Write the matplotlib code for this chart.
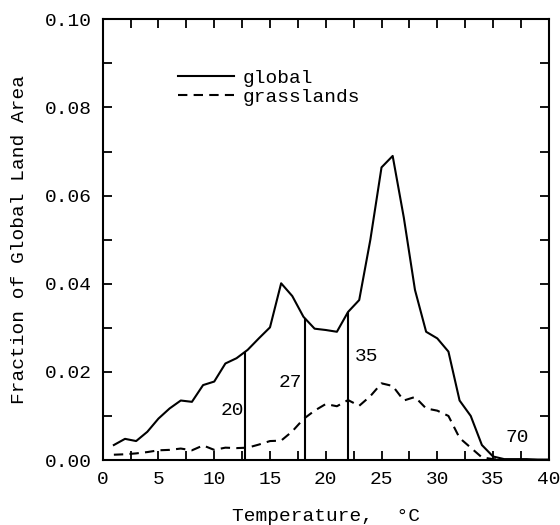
import numpy as np
from matplotlib import pyplot as plt
from matplotlib.ticker import MultipleLocator

plt.rcParams['font.family'] = ['Liberation Mono', 'DejaVu Sans']

# temperature bins (degrees C)
temp = [1, 2, 3, 4, 5, 6, 7, 8, 9, 10, 11, 12, 13, 14, 15, 16, 17, 18, 19, 20,
        21, 22, 23, 24, 25, 26, 27, 28, 29, 30, 31, 32, 33, 34, 35, 36, 37, 38, 39, 40]

global_frac = [0.0034, 0.0048, 0.0043, 0.0064, 0.0094, 0.0117, 0.0135, 0.0132, 0.0170, 0.0178,
               0.0219, 0.0231, 0.0250, 0.0276, 0.0301, 0.0401, 0.0372, 0.0325, 0.0298, 0.0295,
               0.0291, 0.0336, 0.0363, 0.0500, 0.0664, 0.0690, 0.0550, 0.0386, 0.0291, 0.0276,
               0.0246, 0.0135, 0.0100, 0.0034, 0.0008, 0.0002, 0.0002, 0.0002, 0.0001, 0.0001]

grass_frac = [0.0012, 0.0013, 0.0015, 0.0018, 0.0022, 0.0023, 0.0026, 0.0022, 0.0033, 0.0023,
              0.0028, 0.0027, 0.0028, 0.0035, 0.0043, 0.0044, 0.0065, 0.0093, 0.0112, 0.0127,
              0.0122, 0.0136, 0.0123, 0.0145, 0.0174, 0.0168, 0.0135, 0.0143, 0.0117, 0.0112,
              0.0100, 0.0050, 0.0028, 0.0006, 0.0002, 0.0, 0.0, 0.0, 0.0, 0.0]

# percentile cut lines and their labels
cut_temp = [12.8, 18.1, 22.0]
cut_labels = ['20', '27', '35', '70']
label_pos = [(11.6, 0.0113), (16.8, 0.0176), (23.7, 0.0234), (37.2, 0.0052)]

fig = plt.figure(figsize=(5.6, 5.25), dpi=100)
ax = fig.add_axes([0.1834, 0.1238, 0.7966, 0.8394])

ax.plot(temp, global_frac, color='black', linewidth=1.5, label='global')
ax.plot(temp, grass_frac, color='black', linewidth=1.5, linestyle=(0, (4.5, 3)),
        label='grasslands')

for t in cut_temp:
    ax.vlines(t, 0, np.interp(t, temp, global_frac), color='black', linewidth=1.5)

for txt, (x, y) in zip(cut_labels, label_pos):
    ax.text(x, y, txt, fontsize=14, ha='center', va='center')

ax.set_xlim(0, 40)
ax.set_ylim(0, 0.10)
ax.xaxis.set_major_locator(MultipleLocator(5))
ax.xaxis.set_minor_locator(MultipleLocator(2.5))
ax.yaxis.set_major_locator(MultipleLocator(0.02))
ax.yaxis.set_minor_locator(MultipleLocator(0.01))
ax.yaxis.set_major_formatter(lambda v, p: f"{v:.2f}")

ax.tick_params(which='both', direction='in', top=True, right=True,
               length=6.5, width=1.3, labelsize=14)
ax.tick_params(axis='x', pad=8)
ax.tick_params(axis='y', pad=8)
for s in ax.spines.values():
    s.set_linewidth(1.5)

ax.set_xlabel('Temperature,  \u00b0C', fontsize=14, labelpad=14)
ax.set_ylabel('Fraction of Global Land Area', fontsize=14, labelpad=12)

ax.legend(loc='upper left', bbox_to_anchor=(0.169, 0.887), frameon=False,
          fontsize=14, handlelength=2.9, handletextpad=0.4, labelspacing=0.1,
          borderpad=0, borderaxespad=0)

fig.savefig('out.png', dpi=100)
